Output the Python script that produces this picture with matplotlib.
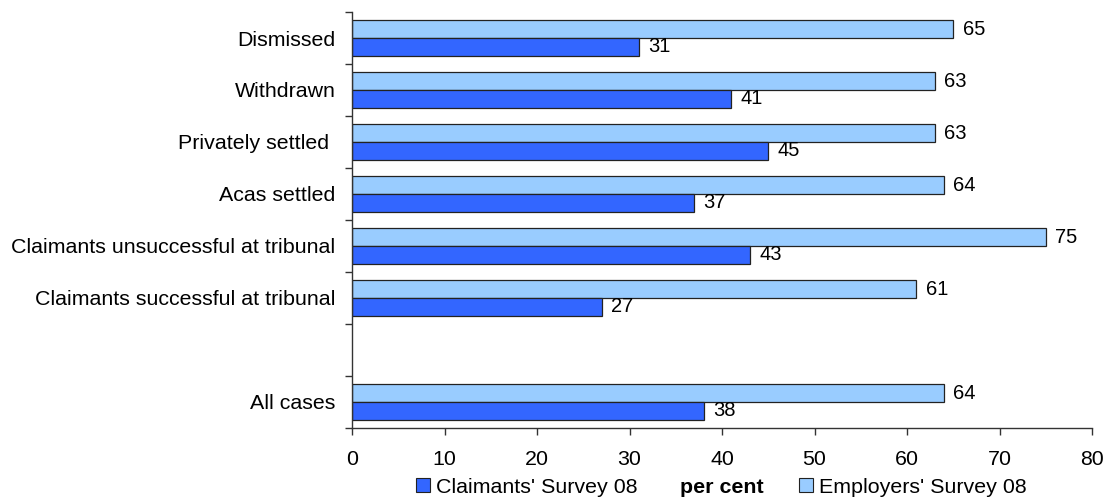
import numpy as np
import matplotlib.pyplot as plt

plt.rcParams['font.family'] = ['Liberation Sans', 'DejaVu Sans']

# categories listed bottom to top ('' is the gap row)
categories = ['All cases', '', 'Claimants successful at tribunal',
              'Claimants unsuccessful at tribunal', 'Acas settled',
              'Privately settled ', 'Withdrawn', 'Dismissed']
claimants = [38, None, 27, 43, 37, 45, 41, 31]
employers = [64, None, 61, 75, 64, 63, 63, 65]

dark_blue = '#3366FF'
light_blue = '#99CCFF'
fs = 15.4

fig = plt.figure(figsize=(11.08, 4.98), dpi=100)
ax = fig.add_axes([0.3177, 0.1406, 0.6679, 0.8353])

y = np.arange(len(categories))
h = 0.34
for i, (c, e) in enumerate(zip(claimants, employers)):
    if c is None:
        continue
    ax.barh(y[i] + h / 2, e, height=h, color=light_blue, edgecolor='#222222', linewidth=0.9)
    ax.barh(y[i] - h / 2, c, height=h, color=dark_blue, edgecolor='#222222', linewidth=0.9)
    ax.text(e + 1.0, y[i] + h / 2, str(e), va='center', ha='left', fontsize=14.5)
    ax.text(c + 1.0, y[i] - h / 2, str(c), va='center', ha='left', fontsize=14.5)

ax.set_xlim(0, 80)
ax.set_ylim(-0.5, len(categories) - 0.5)
ax.set_xticks(np.arange(0, 81, 10))
ax.set_yticks(y)
ax.set_yticklabels(categories)
ax.set_yticks(np.arange(-0.5, len(categories), 1.0), minor=True)
ax.tick_params(axis='y', which='major', length=0, pad=12, labelsize=fs)
ax.tick_params(axis='y', which='minor', length=5, width=1, color='#333333')
ax.tick_params(axis='x', length=5, width=1, color='#333333', pad=11, labelsize=fs)

for s in ['top', 'right']:
    ax.spines[s].set_visible(False)
for s in ['left', 'bottom']:
    ax.spines[s].set_color('#333333')
    ax.spines[s].set_linewidth(1)

ax.set_xlabel('per cent', fontsize=fs, fontweight='bold', labelpad=6)

handles = [plt.Rectangle((0, 0), 1, 1, facecolor=dark_blue, edgecolor='#222222', linewidth=0.8),
           plt.Rectangle((0, 0), 1, 1, facecolor=light_blue, edgecolor='#222222', linewidth=0.8)]
fig.legend(handles, ["Claimants' Survey 08", "Employers' Survey 08"],
           loc='center', bbox_to_anchor=(0.651, 0.022), ncol=2, frameon=False,
           fontsize=fs, handlelength=0.65, handleheight=0.65, handletextpad=0.3,
           columnspacing=7.55, borderpad=0)

fig.savefig('out.png', dpi=100, facecolor='white')
